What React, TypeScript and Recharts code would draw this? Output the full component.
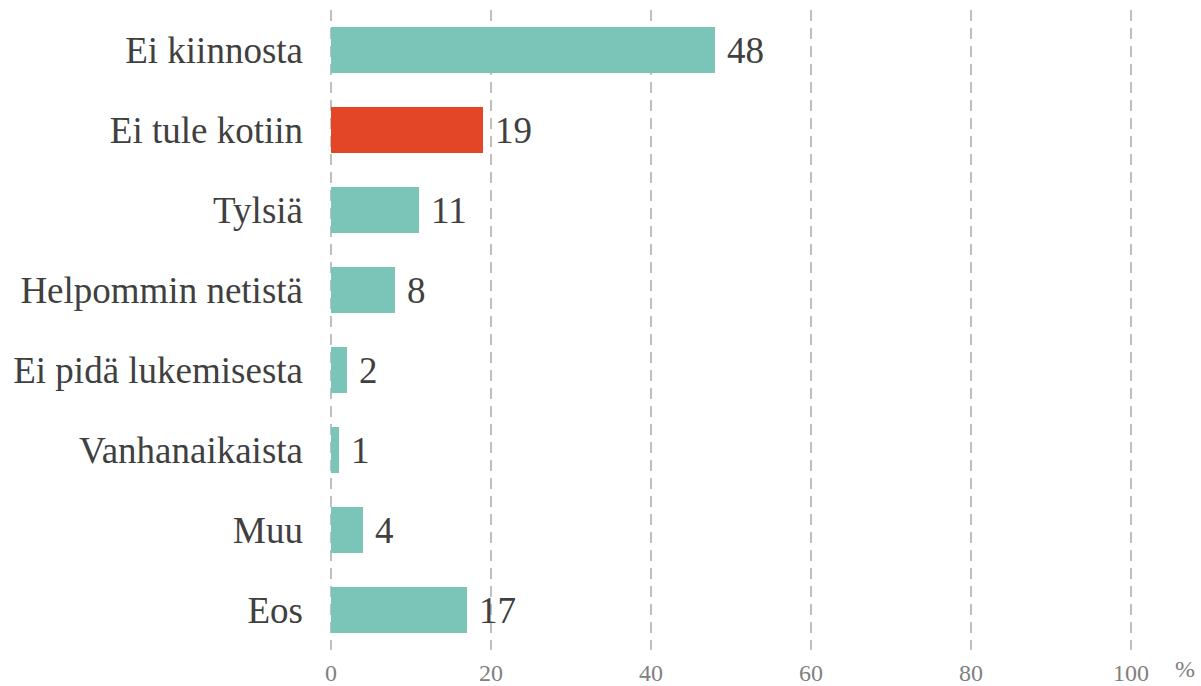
import { BarChart, Bar, XAxis, YAxis, CartesianGrid, Cell, LabelList } from "recharts";

const categories = [
  "Ei kiinnosta",
  "Ei tule kotiin",
  "Tylsiä",
  "Helpommin netistä",
  "Ei pidä lukemisesta",
  "Vanhanaikaista",
  "Muu",
  "Eos",
];

const values = [48, 19, 11, 8, 2, 1, 4, 17];

const highlighted = ["Ei tule kotiin"];

const xTicks = [0, 20, 40, 60, 80, 100];

const data = categories.map((name, i) => ({ name, value: values[i] }));

const font = "Liberation Serif";

export default function App() {
  return (
    <div
      style={{
        position: "absolute",
        left: 0,
        top: 0,
        background: "#fff",
        fontFamily: font,
      }}
    >
      <BarChart
        width={1201}
        height={686}
        data={data}
        layout="vertical"
        margin={{ top: 10, right: 70, bottom: 0, left: 0 }}
        style={{ fontFamily: font }}
      >
        <CartesianGrid
          horizontal={false}
          stroke="#BFBFBF"
          strokeWidth={2}
          strokeDasharray="11 7"
        />
        <XAxis
          type="number"
          domain={[0, 100]}
          ticks={xTicks}
          axisLine={false}
          tickLine={false}
          tickSize={0}
          tickMargin={14}
          height={36}
          tick={{ fill: "#808080", fontSize: 24, fontFamily: font }}
          label={{
            value: "%",
            position: "right",
            offset: 44,
            fill: "#808080",
            fontSize: 24,
            fontFamily: font,
          }}
        />
        <YAxis
          type="category"
          dataKey="name"
          width={331}
          axisLine={false}
          tickLine={false}
          tickSize={0}
          tickMargin={28}
          interval={0}
          tick={{ fill: "#404040", fontSize: 37, fontFamily: font }}
        />
        <Bar dataKey="value" barSize={46} isAnimationActive={false}>
          {data.map((d) => (
            <Cell
              key={d.name}
              fill={highlighted.includes(d.name) ? "#E24626" : "#7BC4B8"}
            />
          ))}
          <LabelList
            dataKey="value"
            position="right"
            offset={12}
            fill="#404040"
            fontSize={37}
            fontFamily={font}
          />
        </Bar>
      </BarChart>
    </div>
  );
}
